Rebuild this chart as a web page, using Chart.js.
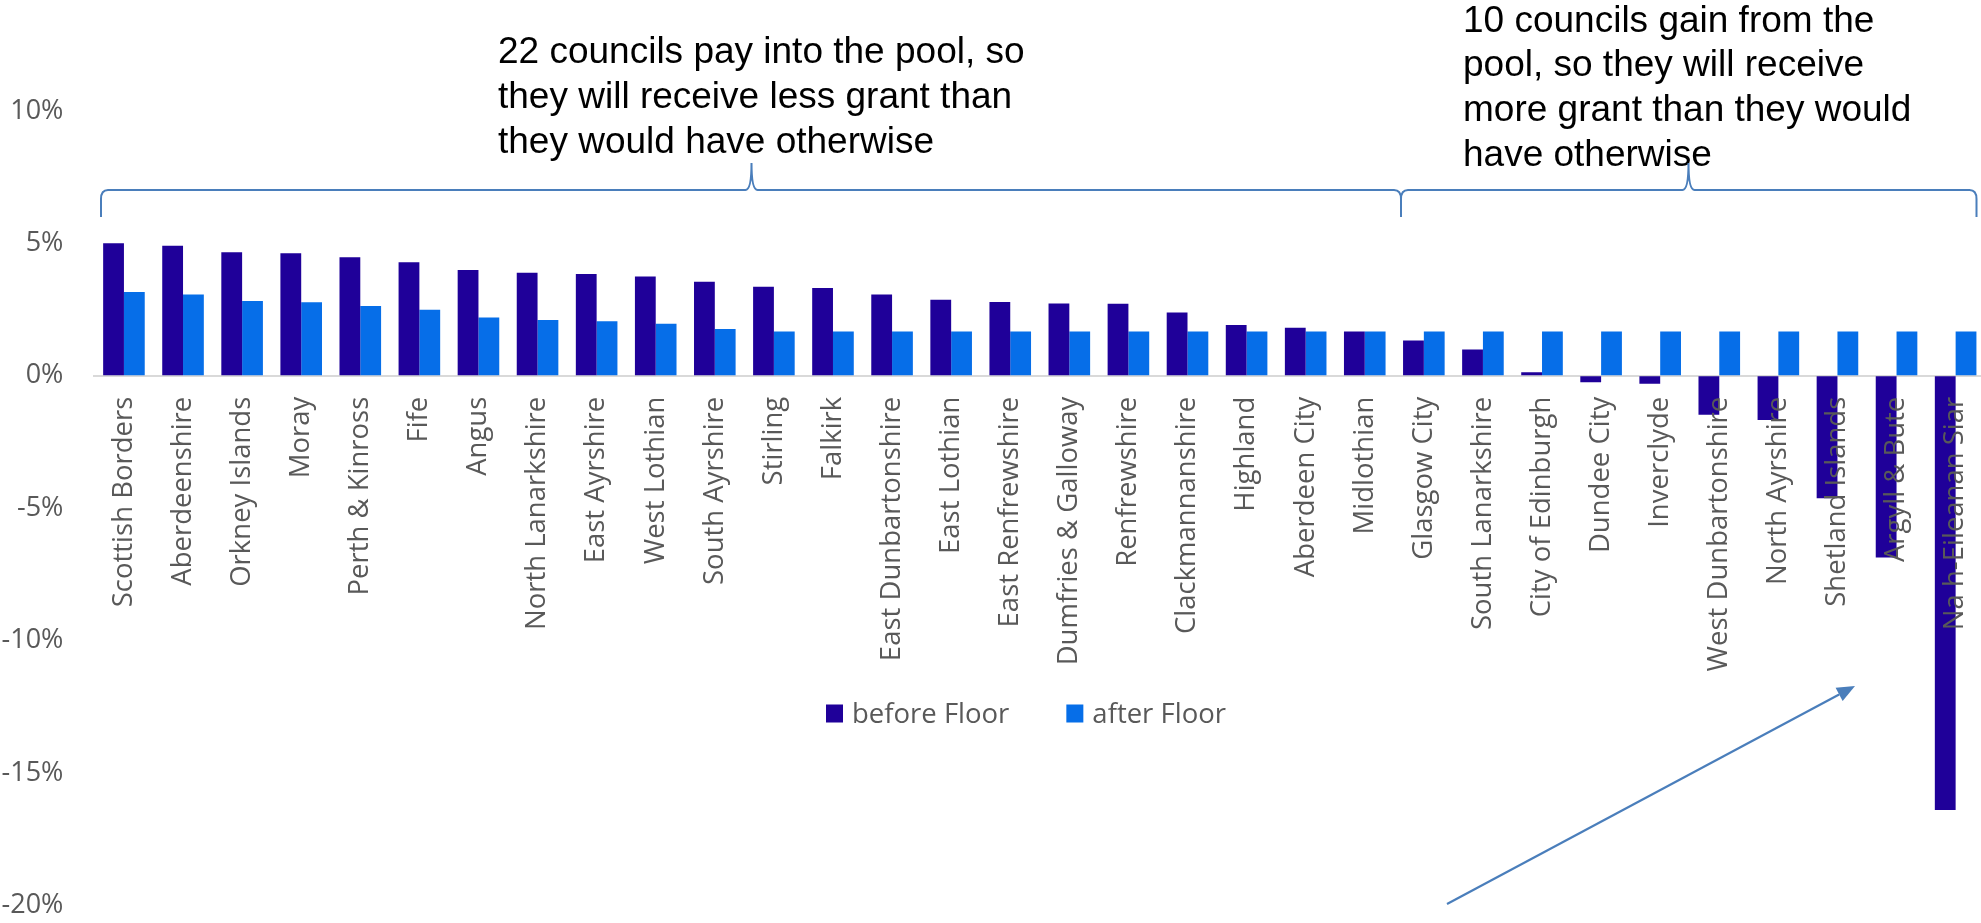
<!DOCTYPE html>
<html>
<head>
<meta charset="utf-8">
<script src="https://cdn.jsdelivr.net/npm/chart.js@4.4.1/dist/chart.umd.min.js"></script>
<style>
html, body { margin: 0; padding: 0; overflow: hidden; background: #ffffff; width: 1981px; height: 923px; }
#wrap { position: absolute; left: 0; top: 0; width: 2010px; height: 923px; }
</style>
</head>
<body>
<div id="wrap"><canvas id="chart"></canvas></div>
<script>
// ---- data ----
const categories = [
  'Scottish Borders', 'Aberdeenshire', 'Orkney Islands', 'Moray', 'Perth & Kinross', 'Fife', 'Angus',
  'North Lanarkshire', 'East Ayrshire', 'West Lothian', 'South Ayrshire', 'Stirling', 'Falkirk',
  'East Dunbartonshire', 'East Lothian', 'East Renfrewshire', 'Dumfries & Galloway', 'Renfrewshire',
  'Clackmannanshire', 'Highland', 'Aberdeen City', 'Midlothian', 'Glasgow City', 'South Lanarkshire',
  'City of Edinburgh', 'Dundee City', 'Inverclyde', 'West Dunbartonshire', 'North Ayrshire',
  'Shetland Islands', 'Argyll & Bute', 'Na h-Eileanan Siar'
];
const beforeFloor = [
  5.00, 4.91, 4.66, 4.62, 4.47, 4.28, 3.99, 3.89, 3.84, 3.75, 3.55, 3.36, 3.31,
  3.07, 2.87, 2.78, 2.73, 2.72, 2.39, 1.91, 1.81, 1.67, 1.33, 0.99,
  0.13, -0.25, -0.30, -1.47, -1.67, -4.63, -6.87, -16.40
];
const afterFloor = [
  3.16, 3.07, 2.82, 2.77, 2.63, 2.49, 2.20, 2.10, 2.06, 1.96, 1.76, 1.67, 1.67,
  1.67, 1.67, 1.67, 1.67, 1.67, 1.67, 1.67, 1.67, 1.67, 1.67, 1.67,
  1.67, 1.67, 1.67, 1.67, 1.67, 1.67, 1.67, 1.67
];
const seriesNames = ['before Floor', 'after Floor'];
const seriesColors = ['#1F0099', '#066EE8'];
const yMin = -20, yMax = 10, yStep = 5;
const noteLeft = ['22 councils pay into the pool, so', 'they will receive less grant than', 'they would have otherwise'];
const noteRight = ['10 councils gain from the', 'pool, so they will receive', 'more grant than they would', 'have otherwise'];

// ---- styles ----
const yTickFont = { family: "'Open Sans', sans-serif", size: 27 };
const xTickFont = { family: "'Open Sans', sans-serif", size: 27.5 };
const tickColor = '#595959';
const noteFont = '37px "Liberation Sans", Arial, sans-serif';
const legendFont = "27.5px 'Open Sans', sans-serif";
const accent = '#4A7EBB';

function drawBrace(ctx, x1, x2, yEnd, yBar, yTip, xm) {
  ctx.beginPath();
  ctx.moveTo(x1, yEnd);
  ctx.lineTo(x1, yBar + 9);
  ctx.quadraticCurveTo(x1, yBar, x1 + 7, yBar);
  ctx.lineTo(xm - 6, yBar);
  ctx.quadraticCurveTo(xm, yBar, xm, yTip);
  ctx.quadraticCurveTo(xm, yBar, xm + 6, yBar);
  ctx.lineTo(x2 - 7, yBar);
  ctx.quadraticCurveTo(x2, yBar, x2, yBar + 9);
  ctx.lineTo(x2, yEnd);
  ctx.stroke();
}

const overlay = {
  id: 'overlay',
  afterDraw(chart) {
    const ctx = chart.ctx;
    ctx.save();
    // annotation texts
    ctx.fillStyle = '#000000';
    ctx.font = noteFont;
    ctx.textAlign = 'left';
    ctx.textBaseline = 'alphabetic';
    noteLeft.forEach((t, i) => ctx.fillText(t, 498, 62.5 + i * 45));
    noteRight.forEach((t, i) => ctx.fillText(t, 1463, 31.7 + i * 44.7));
    // braces
    ctx.strokeStyle = accent;
    ctx.lineWidth = 2;
    drawBrace(ctx, 101, 1401, 217, 190, 163, 751.5);
    drawBrace(ctx, 1401, 1976.5, 217, 190, 163, 1688.5);
    // arrow
    const x0 = 1447, y0 = 904, x1 = 1855, y1 = 686;
    const ang = Math.atan2(y1 - y0, x1 - x0);
    const hl = 18, hw = 7.5;
    const bx = x1 - hl * Math.cos(ang), by = y1 - hl * Math.sin(ang);
    ctx.lineWidth = 2.2;
    ctx.beginPath();
    ctx.moveTo(x0, y0);
    ctx.lineTo(bx, by);
    ctx.stroke();
    ctx.fillStyle = accent;
    ctx.beginPath();
    ctx.moveTo(x1, y1);
    ctx.lineTo(bx + hw * Math.sin(ang), by - hw * Math.cos(ang));
    ctx.lineTo(bx - hw * Math.sin(ang), by + hw * Math.cos(ang));
    ctx.closePath();
    ctx.fill();
    // legend
    ctx.font = legendFont;
    let lx = 826;
    chart.data.datasets.forEach((ds) => {
      ctx.fillStyle = ds.backgroundColor;
      ctx.fillRect(lx, 704.5, 17, 18);
      ctx.fillStyle = tickColor;
      ctx.fillText(ds.label, lx + 26, 722.7);
      lx += 26 + ctx.measureText(ds.label).width + 57;
    });
    ctx.restore();
  }
};

function build() {
  new Chart(document.getElementById('chart'), {
    type: 'bar',
    data: {
      labels: categories,
      datasets: [
        { label: seriesNames[0], data: beforeFloor, backgroundColor: seriesColors[0], borderWidth: 0 },
        { label: seriesNames[1], data: afterFloor, backgroundColor: seriesColors[1], borderWidth: 0 }
      ]
    },
    options: {
      responsive: true,
      maintainAspectRatio: false,
      animation: false,
      devicePixelRatio: 1,
      layout: { padding: { top: 110.9, left: 0, right: 23.7, bottom: 17.7 } },
      datasets: { bar: { categoryPercentage: 0.704, barPercentage: 1.0 } },
      plugins: {
        legend: { display: false },
        title: { display: false },
        tooltip: { enabled: false }
      },
      scales: {
        x: {
          position: { y: 0 },
          grid: { display: false, drawTicks: false },
          border: { display: true, color: '#D9D9D9', width: 2 },
          ticks: {
            autoSkip: false, maxRotation: 90, minRotation: 90,
            padding: 21, font: xTickFont, color: tickColor, z: 1
          },
          afterFit(scale) { scale.height = 0; }
        },
        y: {
          min: yMin, max: yMax,
          grid: { display: true, drawOnChartArea: false, drawTicks: true, tickLength: 31, color: 'rgba(0,0,0,0)' },
          border: { display: false },
          ticks: {
            stepSize: yStep, padding: 0, font: yTickFont, color: tickColor,
            callback: (v) => v + '%'
          },
          afterFit(scale) { scale.width = 94.4; }
        }
      }
    },
    plugins: [overlay]
  });
}

Promise.all([
  document.fonts.load("27px 'Open Sans'"),
  document.fonts.load('37px "Liberation Sans"')
]).then(build, build);
</script>
</body>
</html>
